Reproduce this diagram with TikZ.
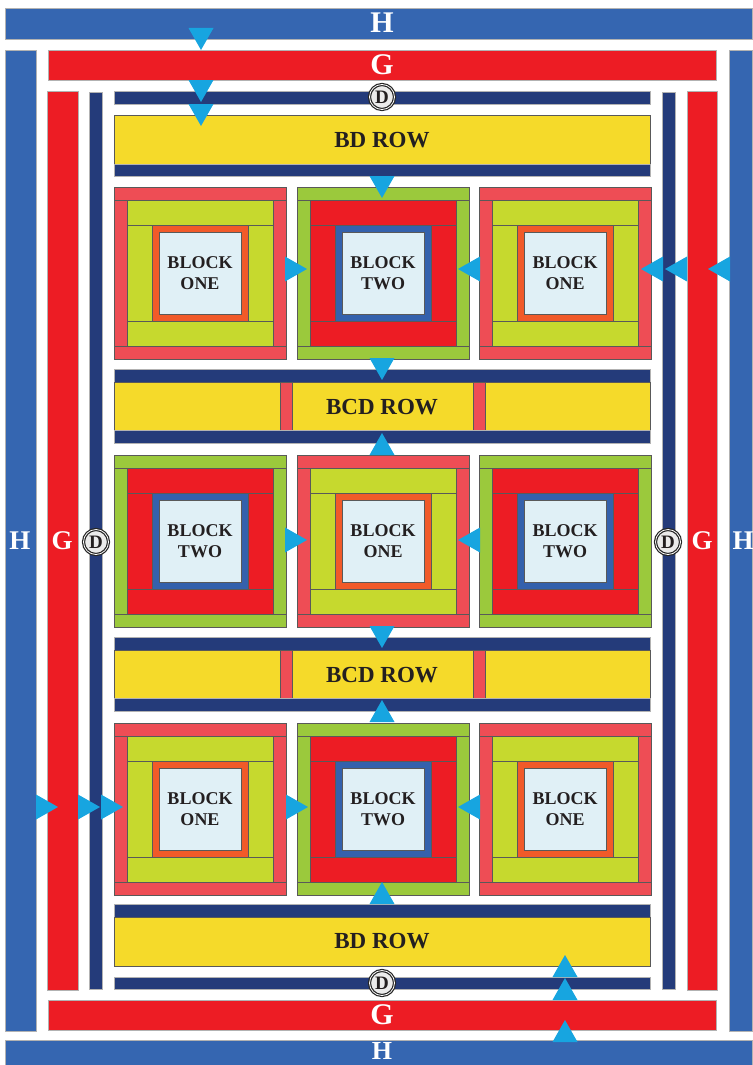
\documentclass[tikz,border=0pt]{standalone}
\usepackage{fontspec}
\setmainfont{Liberation Serif}
\definecolor{hblue}{HTML}{3566B1}
\definecolor{gred}{HTML}{ED1C24}
\definecolor{dnavy}{HTML}{243B7A}
\definecolor{yel}{HTML}{F5DA2A}
\definecolor{salmon}{HTML}{EE4D55}
\definecolor{lime}{HTML}{C6D92E}
\definecolor{ornge}{HTML}{F15A29}
\definecolor{centre}{HTML}{E0F0F6}
\definecolor{leaf}{HTML}{9BC93C}
\definecolor{ringblue}{HTML}{3461AC}
\definecolor{cyanarrow}{HTML}{17A5E0}
\definecolor{ink}{HTML}{231F20}
\tikzset{
  piece/.style={draw=black!65,line width=0.4pt},
  bar/.style={draw=black!30,line width=0.4pt},
  tri/.style={fill=cyanarrow},
  blocklabel/.style={font=\fontsize{18}{21}\selectfont\bfseries,text=ink,align=center,inner sep=0pt},
  rowlabel/.style={font=\fontsize{23}{23}\selectfont\bfseries,text=ink,inner sep=0pt},
  biglabel/.style={font=\fontsize{30}{30}\selectfont\bfseries,text=white,inner sep=0pt},
  sidelabel/.style={font=\fontsize{27}{27}\selectfont\bfseries,text=white,inner sep=0pt},
  dmark/.style={circle,draw=black!85,line width=1.2pt,fill=black!8,minimum size=25pt,inner sep=0pt,font=\fontsize{19}{19}\selectfont\bfseries,text=ink,
    double=white,double distance=0.8pt}
}
\newcommand{\qblock}[7]{%
\begin{scope}[shift={(#1,#2)}]
\filldraw[piece,fill=#3] (0,0) rectangle (172,13);
\filldraw[piece,fill=#3] (0,159) rectangle (172,172);
\filldraw[piece,fill=#3] (0,13) rectangle (13,159);
\filldraw[piece,fill=#3] (159,13) rectangle (172,159);
\filldraw[piece,fill=#4] (13,13) rectangle (159,38);
\filldraw[piece,fill=#4] (13,134) rectangle (159,159);
\filldraw[piece,fill=#4] (13,38) rectangle (38,134);
\filldraw[piece,fill=#4] (134,38) rectangle (159,134);
\filldraw[piece,fill=#5] (38,38) rectangle (134,134);
\filldraw[piece,fill=centre] (45,45) rectangle (127,127);
\node[blocklabel] (#7) at (86,86) {#6};
\end{scope}}
\newcommand{\bone}[3]{\qblock{#1}{#2}{salmon}{lime}{ornge}{BLOCK\\ONE}{#3}}
\newcommand{\btwo}[3]{\qblock{#1}{#2}{leaf}{gred}{ringblue}{BLOCK\\TWO}{#3}}
\newcommand{\tdown}[2]{\fill[tri] (#1-12.5,#2) -- (#1+12.5,#2) -- (#1,#2+22) -- cycle;}
\newcommand{\tup}[2]{\fill[tri] (#1-12.5,#2+22) -- (#1+12.5,#2+22) -- (#1,#2) -- cycle;}
\newcommand{\tright}[2]{\fill[tri] (#1,#2-12.5) -- (#1,#2+12.5) -- (#1+22,#2) -- cycle;}
\newcommand{\tleft}[2]{\fill[tri] (#1+22,#2-12.5) -- (#1+22,#2+12.5) -- (#1,#2) -- cycle;}
\newcommand{\bcdrow}[2]{%
\filldraw[bar,fill=dnavy] (114,#1) rectangle (650,#1+13);
\filldraw[piece,fill=yel] (114,#1+13) rectangle (650,#1+61);
\filldraw[piece,fill=salmon] (280,#1+13) rectangle (292,#1+61);
\filldraw[piece,fill=salmon] (473,#1+13) rectangle (485,#1+61);
\filldraw[bar,fill=dnavy] (114,#1+61) rectangle (650,#1+74);
\node[rowlabel] (#2) at (382,#1+38) {BCD ROW};}
\begin{document}
\begin{tikzpicture}[x=1pt,y=-1pt]
\useasboundingbox (0,0) rectangle (752,1065);
\fill[white] (0,0) rectangle (752,1065);
% H border
\filldraw[bar,fill=hblue] (5,8) rectangle (752,39);
\filldraw[bar,fill=hblue] (5,50) rectangle (36,1031);
\filldraw[bar,fill=hblue] (729,50) rectangle (752,1031);
\filldraw[bar,fill=hblue] (5,1040) rectangle (752,1065);
% G border
\filldraw[bar,fill=gred] (48,50) rectangle (716,80);
\filldraw[bar,fill=gred] (47,91) rectangle (78,990);
\filldraw[bar,fill=gred] (687,91) rectangle (717,990);
\filldraw[bar,fill=gred] (48,1000) rectangle (716,1030);
% D border
\filldraw[bar,fill=dnavy] (89,92) rectangle (102,989);
\filldraw[bar,fill=dnavy] (662,92) rectangle (675,989);
\filldraw[bar,fill=dnavy] (114,91) rectangle (650,104);
\filldraw[bar,fill=dnavy] (114,977) rectangle (650,989);
% BD rows
\filldraw[piece,fill=yel] (114,115) rectangle (650,164);
\filldraw[bar,fill=dnavy] (114,164) rectangle (650,176);
\node[rowlabel] (bdtop) at (382,140) {BD ROW};
\filldraw[bar,fill=dnavy] (114,904) rectangle (650,917);
\filldraw[piece,fill=yel] (114,917) rectangle (650,966);
\node[rowlabel] (bdbot) at (382,941) {BD ROW};
% BCD rows
\bcdrow{369}{bcdone}
\bcdrow{637}{bcdtwo}
% blocks
\bone{114}{187}{r1a}
\btwo{297}{187}{r1b}
\bone{479}{187}{r1c}
\btwo{114}{455}{r2a}
\bone{297}{455}{r2b}
\btwo{479}{455}{r2c}
\bone{114}{723}{r3a}
\btwo{297}{723}{r3b}
\bone{479}{723}{r3c}
% labels
\node[biglabel] (htop) at (382,23) {H};
\node[biglabel,font=\fontsize{26}{26}\selectfont\bfseries] (hbot) at (382,1051) {H};
\node[biglabel] (gtop) at (382,65) {G};
\node[biglabel] (gbot) at (382,1015) {G};
\node[sidelabel] (hleft) at (20,541) {H};
\node[sidelabel] (hright) at (743,541) {H};
\node[sidelabel] (gleft) at (62,541) {G};
\node[sidelabel] (gright) at (702,541) {G};
\node[dmark] (dtop) at (382,97) {D};
\node[dmark] (dbot) at (382,983) {D};
\node[dmark] (dleft) at (96,542) {D};
\node[dmark] (dright) at (668,542) {D};
% arrows
\tdown{201}{28}
\tdown{201}{80}
\tdown{201}{104}
\tdown{382}{176}
\tdown{382}{358}
\tdown{382}{626}
\tup{382}{433}
\tup{382}{700}
\tup{382}{882}
\tup{565}{955}
\tup{565}{978}
\tup{565}{1020}
\tright{285}{269}
\tright{285}{540}
\tright{286}{807}
\tright{36}{807}
\tright{78}{807}
\tright{101}{807}
\tleft{458}{269}
\tleft{458}{540}
\tleft{458}{807}
\tleft{641}{269}
\tleft{665}{269}
\tleft{708}{269}
\end{tikzpicture}
\end{document}
